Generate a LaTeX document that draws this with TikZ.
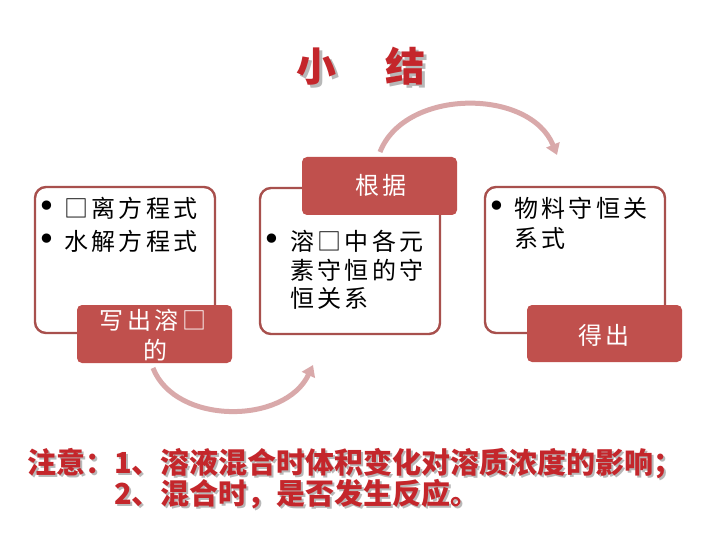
\documentclass[tikz,border=0pt]{standalone}
\usepackage{fontspec}
\usetikzlibrary{arrows.meta}
\newfontfamily\cjk[LetterSpace=14]{Noto Sans CJK SC}
\newfontfamily\cjkn{Noto Sans CJK SC}
\newfontfamily\bulfont{DejaVu Sans}
\definecolor{labelred}{HTML}{C0504D}
\definecolor{edgered}{HTML}{A8504D}
\definecolor{arrowpink}{HTML}{D9A9AA}
\definecolor{titlered}{HTML}{C4262B}
\definecolor{shadowgray}{HTML}{B8B8B8}
\newcommand{\shadowed}[2]{\makebox[0pt][l]{\hspace{#1}\raisebox{-#1}{\color{shadowgray}#2}}#2}
\tikzset{
  outlinebox/.style={draw=edgered, line width=2.4pt, rounded corners=11pt, fill=white},
  labelbox/.style={fill=labelred, rounded corners=5pt, draw=none},
  bodytxt/.style={anchor=west, inner sep=0pt, font=\cjk\fontsize{24}{29}\selectfont, text=black},
  bullettxt/.style={anchor=center, inner sep=0pt, font=\bulfont\fontsize{32}{34}\selectfont, text=black},
  labeltxt/.style={anchor=center, inner sep=0pt, font=\cjk\fontsize{24}{29}\selectfont, text=white},
  cyclearrow/.style={draw=arrowpink, line width=5pt, -{Triangle[length=11pt,width=14pt]}},
  titletxt/.style={anchor=center, inner sep=0pt, font=\cjkn\bfseries\fontsize{40}{44}\selectfont, text=titlered},
  notetxt/.style={anchor=west, inner sep=0pt, font=\cjkn\bfseries\fontsize{29}{32}\selectfont, text=titlered},
}
\begin{document}
\begin{tikzpicture}[x=1pt,y=-1pt]
\useasboundingbox (0,0) rectangle (720,540);
\fill[white] (0,0) rectangle (720,540);

% title
\node[titletxt] (t1) at (316,68) {\shadowed{3pt}{小}};
\node[titletxt] (t2) at (405,68) {\shadowed{3pt}{结}};

% arrows
\coordinate (a1s) at (153,368);
\coordinate (a1e) at (313,365);
\coordinate (a2s) at (380,152);
\coordinate (a2e) at (557,155);
\draw[cyclearrow] (a1s) .. controls (175,425) and (285,425) .. (a1e);
\draw[cyclearrow] (a2s) .. controls (405,88) and (530,88) .. (a2e);

% boxes
\draw[outlinebox] (35,187) rectangle (215,333);
\draw[outlinebox] (260,188) rectangle (440,334);
\draw[outlinebox] (485,187) rectangle (665,333);

\fill[labelbox] (77,305) rectangle (232,363);
\fill[labelbox] (302,157) rectangle (457,215);
\fill[labelbox] (527,305) rectangle (682,362);

% left box text
\node[bullettxt] (lb1) at (47,209) {•};
\node[bodytxt] (lt1) at (64,208) {□离方程式};
\node[bullettxt] (lb2) at (47,242) {•};
\node[bodytxt] (lt2) at (64,241) {水解方程式};
\node[labeltxt] (ll1) at (153,320) {写出溶□};
\node[labeltxt] (ll2) at (155,350) {的};

% middle box text
\node[labeltxt] (ml) at (381,185) {根据};
\node[bullettxt] (mb1) at (272,242) {•};
\node[bodytxt] (mt1) at (290,241) {溶□中各元};
\node[bodytxt] (mt2) at (290,270) {素守恒的守};
\node[bodytxt] (mt3) at (290,298) {恒关系};

% right box text
\node[bullettxt] (rb1) at (497,209) {•};
\node[bodytxt] (rt1) at (514,208) {物料守恒关};
\node[bodytxt] (rt2) at (514,238) {系式};
\node[labeltxt] (rl) at (604,335) {得出};

% note
\node[notetxt] (n1) at (27,465) {\shadowed{2pt}{注意：1、溶液混合时体积变化对溶质浓度的影响；}};
\node[notetxt] (n2) at (114,495) {\shadowed{2pt}{2、混合时，是否发生反应。}};
\end{tikzpicture}
\end{document}
